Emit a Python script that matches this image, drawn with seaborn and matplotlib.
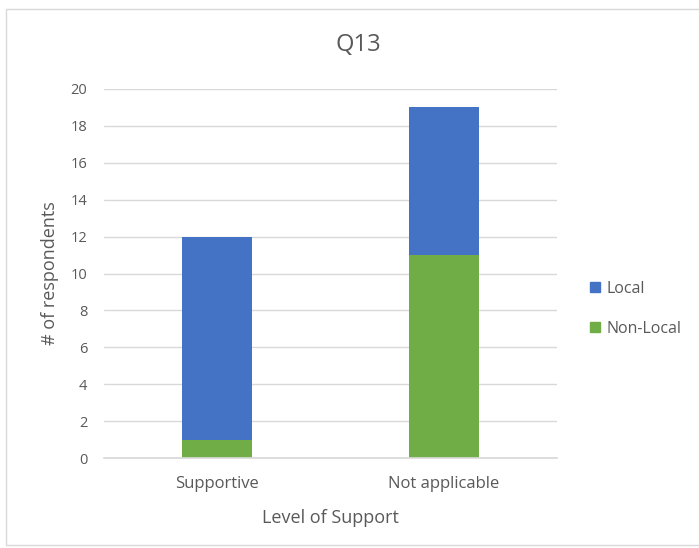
import numpy as np
import pandas as pd
import seaborn as sns
import matplotlib.pyplot as plt
from matplotlib.patches import Rectangle, Patch

categories = ["Supportive", "Not applicable"]
local = [11, 8]
non_local = [1, 11]

df = pd.DataFrame({"level": categories, "local": local, "non_local": non_local})
df["total"] = df["local"] + df["non_local"]

sns.set_theme(style="white")
plt.rcParams["font.family"] = ["Open Sans", "DejaVu Sans"]
grey = "#595959"

fig = plt.figure(figsize=(6.99, 5.48), dpi=100)
fig.patches.append(Rectangle((6 / 699, 3 / 548), 1.0, 1 - 12 / 548, transform=fig.transFigure,
                             fill=False, edgecolor="#d9d9d9", linewidth=1))
ax = fig.add_axes([104 / 699, 1 - 458 / 548, 453 / 699, 369 / 548])

blue = "#4472C4"
green = "#70AD47"
sns.barplot(data=df, x="level", y="total", color=blue, width=0.31, saturation=1,
            linewidth=0, ax=ax)
sns.barplot(data=df, x="level", y="non_local", color=green, width=0.31, saturation=1,
            linewidth=0, ax=ax)

ax.set_ylim(0, 20)
ax.set_yticks(np.arange(0, 21, 2))
ax.yaxis.grid(True, color="#d9d9d9", linewidth=1)
ax.set_axisbelow(True)
for s in ax.spines.values():
    s.set_visible(False)
ax.spines["bottom"].set_visible(True)
ax.spines["bottom"].set_color("#d9d9d9")
ax.tick_params(axis="both", length=0, colors=grey)
ax.tick_params(axis="x", pad=13, labelsize=12)
ax.tick_params(axis="y", pad=12, labelsize=10.5)
ax.set_xlabel("Level of Support", fontsize=13, color=grey, labelpad=12)
ax.set_ylabel("# of respondents", fontsize=13, color=grey, labelpad=8)
fig.text(358 / 699, 1 - 45 / 548, "Q13", fontsize=17, color=grey, ha="center", va="center")

handles = [Patch(color=blue, label="Local"), Patch(color=green, label="Non-Local")]
fig.legend(handles=handles, loc="center left", bbox_to_anchor=(576 / 699, 1 - 309 / 548),
           frameon=False, fontsize=11.5, labelcolor=grey, handlelength=0.6, handleheight=0.6,
           handletextpad=0.4, labelspacing=1.5)

fig.savefig("out.png", dpi=100)
